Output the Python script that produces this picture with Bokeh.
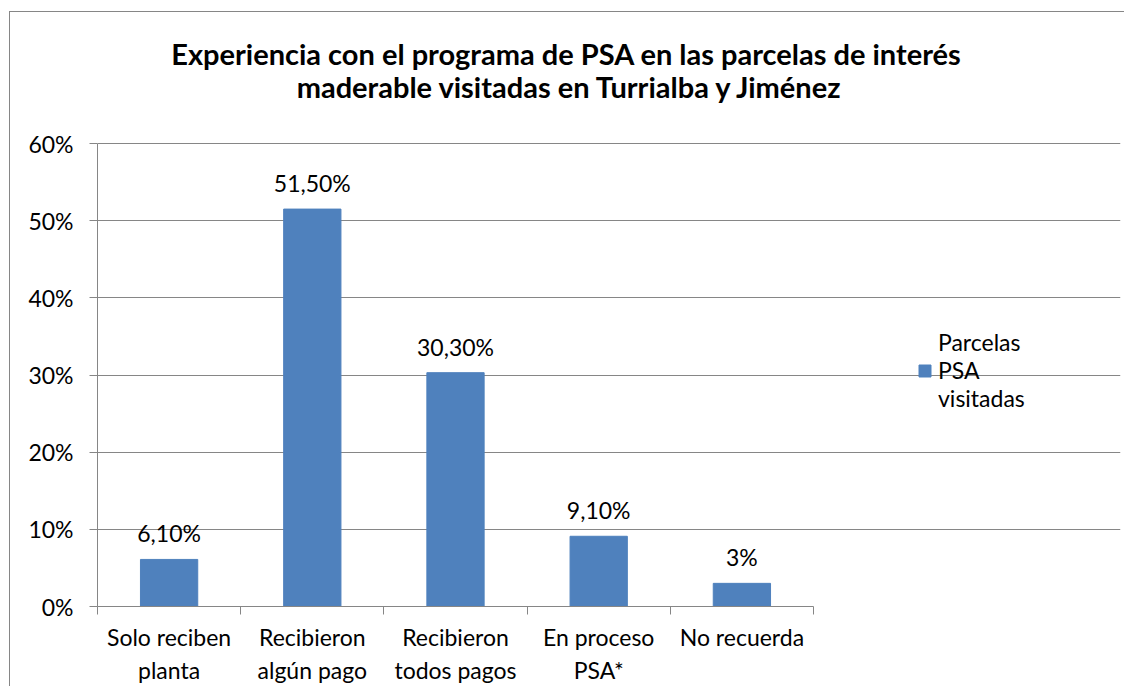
from bokeh.plotting import figure
from bokeh.models import Range1d, FixedTicker, Label, Legend, LegendItem
from bokeh.embed import file_html
from bokeh.resources import INLINE

categories = ["Solo reciben\nplanta", "Recibieron\nalgún pago", "Recibieron\ntodos pagos",
              "En proceso\nPSA*", "No recuerda"]
values = [6.1, 51.5, 30.3, 9.1, 3.0]
value_labels = ["6,10%", "51,50%", "30,30%", "9,10%", "3%"]
y_ticks = [0, 10, 20, 30, 40, 50, 60]
y_tick_labels = ["0%", "10%", "20%", "30%", "40%", "50%", "60%"]
series_name = "Parcelas\nPSA\nvisitadas"
title_lines = ["Experiencia con el programa de PSA en las parcelas de interés",
               "maderable visitadas en Turrialba y Jiménez"]

FONT = "Lato"
GRAY = "#868686"
BAR = "#4F81BD"

n = len(categories)
xs = [i + 0.5 for i in range(n)]
y_max = y_ticks[-1]

# layout (pixels)
W, H = 1115, 675
LEFT, RIGHT, TOP, BOTTOM = 87, 5, 5, 81
AXIS_PX = 716     # width of the category axis
PLOT_PX = 463     # height of the 0..60% band
frame_w = W - LEFT - RIGHT
frame_h = H - TOP - BOTTOM
x_end = n * frame_w / AXIS_PX
y_end = y_max * frame_h / PLOT_PX


def px_x(dx):  # pixels from frame left -> data x
    return dx / AXIS_PX * n


def px_y(dy):  # pixels above the 0% line -> data y
    return dy / PLOT_PX * y_max


p = figure(width=W, height=H,
           x_range=Range1d(0, x_end), y_range=Range1d(0, y_end),
           output_backend="svg", toolbar_location=None,
           min_border_left=LEFT, min_border_right=RIGHT,
           min_border_top=TOP, min_border_bottom=BOTTOM)
p.styles = {"border-left": "1px solid " + GRAY, "border-top": "1px solid " + GRAY,
            "margin-top": "11px", "margin-left": "9px"}
p.outline_line_color = None
p.background_fill_color = "white"
p.border_fill_color = "white"

bars = p.vbar(x=xs, top=values, width=0.4, fill_color=BAR, line_color=BAR)
p.text(x=xs, y=values, text=value_labels, text_align="center", text_baseline="bottom",
       y_offset=-12, text_font_size="23px", text_color="black",
       text_font={"value": FONT})

# x axis
p.xaxis.ticker = FixedTicker(ticks=xs, minor_ticks=list(range(n + 1)))
p.xaxis.bounds = (0, n)
p.xaxis.major_label_overrides = {x: c for x, c in zip(xs, categories)}
p.xaxis.major_tick_line_color = None
p.xaxis.minor_tick_line_color = GRAY
p.xaxis.minor_tick_in = 0
p.xaxis.minor_tick_out = 8
p.xaxis.axis_line_color = GRAY
p.xaxis.major_label_text_font = FONT
p.xaxis.major_label_text_font_size = "23px"
p.xaxis.major_label_text_color = "black"
p.xaxis.major_label_standoff = 8
p.xgrid.visible = False

# y axis
p.yaxis.ticker = FixedTicker(ticks=y_ticks)
p.yaxis.bounds = (0, y_max)
p.yaxis.major_label_overrides = {t: l for t, l in zip(y_ticks, y_tick_labels)}
p.yaxis.minor_tick_line_color = None
p.yaxis.major_tick_in = 0
p.yaxis.major_tick_out = 8
p.yaxis.major_tick_line_color = GRAY
p.yaxis.axis_line_color = GRAY
p.yaxis.major_label_text_font = FONT
p.yaxis.major_label_text_font_size = "23px"
p.yaxis.major_label_text_color = "black"
p.yaxis.major_label_standoff = 16
p.ygrid.ticker = FixedTicker(ticks=y_ticks)
p.ygrid.bounds = (0, n)
p.ygrid.grid_line_color = GRAY

# title (two centred lines)
for txt, cx, base in [(title_lines[0], 469, 553), (title_lines[1], 473, 520)]:
    p.add_layout(Label(x=px_x(cx), y=px_y(base), text=txt,
                       text_align="center", text_baseline="alphabetic",
                       text_font=FONT, text_font_size="29px", text_font_style="bold",
                       text_color="black"))

legend = Legend(items=[LegendItem(label=series_name, renderers=[bars])],
                location=(820, 194), padding=0, margin=0,
                border_line_color=None, background_fill_alpha=0,
                glyph_width=15, glyph_height=15, label_standoff=6,
                label_text_font=FONT, label_text_font_size="23px",
                label_text_color="black")
p.add_layout(legend)

open("out.html", "w").write(file_html(p, INLINE))
